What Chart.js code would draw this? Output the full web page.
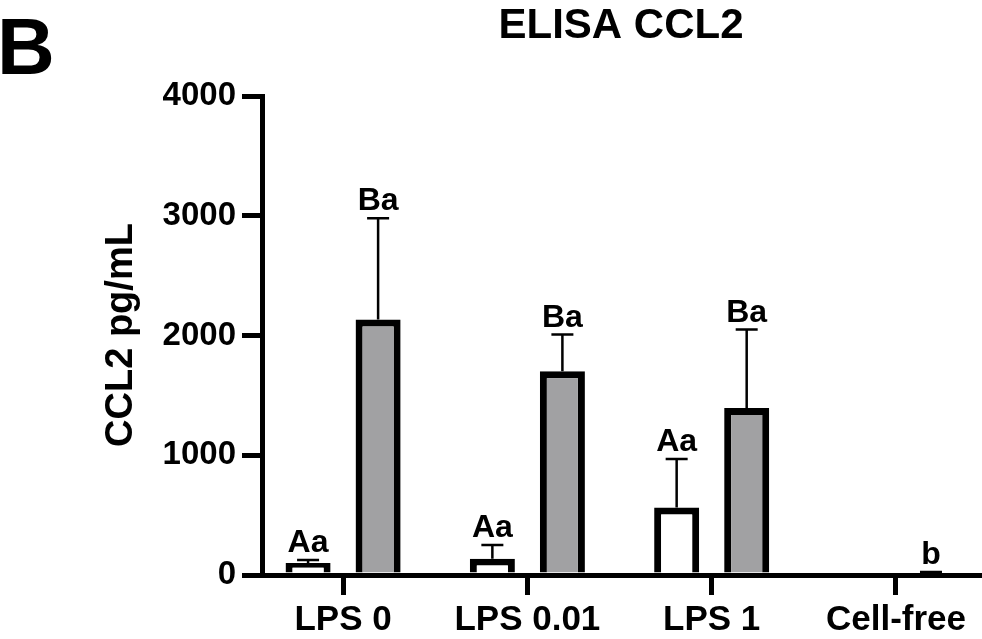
<!DOCTYPE html>
<html>
<head>
<meta charset="utf-8">
<script src="https://cdn.jsdelivr.net/npm/chart.js@4.4.1/dist/chart.umd.min.js"></script>
<style>
  html, body { margin: 0; padding: 0; background: #fff; }
  #wrap { position: relative; width: 982px; height: 639px; }
</style>
</head>
<body>
<div id="wrap"><canvas id="elisa"></canvas></div>
<script>
// ELISA CCL2 — barras medias + error superior (SD)
const categories = ["LPS 0", "LPS 0.01", "LPS 1", "Cell-free"];
const whiteVals  = [100, 136, 563, 0];
const whiteErr   = [125, 251, 968, 0];     // extremo superior de la barra de error
const grayVals   = [2134, 1701, 1395, 0];
const grayErr    = [2979, 2008, 2050, 25];
const whiteTags  = ["Aa", "Aa", "Aa", ""];
const grayTags   = ["Ba", "Ba", "Ba", "b"];
const yTicks     = [0, 1000, 2000, 3000, 4000];

const FONT = "'Liberation Sans', Arial, sans-serif";

const toPts = arr => arr.map((v, i) => ({ x: i, y: v }));

// dibuja error bars, letras, títulos
const extras = {
  id: "extras",
  afterDatasetsDraw(chart){
    const ctx = chart.ctx;
    const ys = chart.scales.y;
    const sets = [[whiteErr, whiteTags], [grayErr, grayTags]];
    ctx.save();
    sets.forEach(([err, tags], d) => {
      const meta = chart.getDatasetMeta(d);
      meta.data.forEach((bar, i) => {
        if (!err[i]) return;
        const top = ys.getPixelForValue(err[i]);
        ctx.strokeStyle = "#000";
        ctx.lineWidth = 2.5;
        ctx.beginPath();
        ctx.moveTo(bar.x, bar.y);
        ctx.lineTo(bar.x, top);
        ctx.moveTo(bar.x - 11, top);
        ctx.lineTo(bar.x + 11, top);
        ctx.stroke();
        if (tags[i]){
          ctx.fillStyle = "#000";
          ctx.font = "bold 32px " + FONT;
          ctx.textAlign = "center";
          ctx.textBaseline = "alphabetic";
          ctx.fillText(tags[i], bar.x, top - 8);
        }
      });
    });
    ctx.restore();
  },
  afterDraw(chart){
    const ctx = chart.ctx;
    const a = chart.chartArea;
    ctx.save();
    ctx.fillStyle = "#000";
    ctx.textBaseline = "alphabetic";
    ctx.font = "bold 80px " + FONT;
    ctx.textAlign = "left";
    ctx.fillText("B", -3, 74);
    ctx.font = "bold 42px " + FONT;
    ctx.textAlign = "center";
    ctx.fillText("ELISA CCL2", (a.left + a.right) / 2, 38);
    ctx.translate(132, 335);
    ctx.rotate(-Math.PI / 2);
    ctx.font = "bold 38px " + FONT;
    ctx.fillText("CCL2 pg/mL", 0, 0);
    ctx.restore();
  }
};

new Chart(document.getElementById("elisa").getContext("2d"), {
  type: "bar",
  data: {
    datasets: [
      {
        label: "white",
        data: toPts(whiteVals),
        backgroundColor: "#ffffff",
        borderColor: "#000000",
        borderWidth: 7,
        barPercentage: 0.643,
        categoryPercentage: 0.76
      },
      {
        label: "gray",
        data: toPts(grayVals),
        backgroundColor: "#a1a1a3",
        borderColor: "#000000",
        borderWidth: 7,
        barPercentage: 0.643,
        categoryPercentage: 0.76
      }
    ]
  },
  options: {
    responsive: true,
    maintainAspectRatio: false,
    animation: false,
    layout: { padding: { top: 96, right: 2, left: 0, bottom: 0 } },
    plugins: {
      legend: { display: false },
      tooltip: { enabled: false }
    },
    scales: {
      x: {
        type: "linear",
        offset: false,
        min: -0.44,
        max: 3.456,
        afterBuildTicks: s => { s.ticks = categories.map((c, i) => ({ value: i })); },
        afterFit: s => { s.height = 64; },
        ticks: {
          color: "#000",
          padding: 4,
          maxRotation: 0,
          autoSkip: false,
          font: { family: FONT, size: 35, weight: "bold" },
          callback: v => categories[v] ?? ""
        },
        grid: { offset: false, drawOnChartArea: false, tickLength: 20, lineWidth: 5, color: "#000" },
        border: { display: true, width: 5, color: "#000" }
      },
      y: {
        min: 0,
        max: 4000,
        afterBuildTicks: s => { s.ticks = yTicks.map(v => ({ value: v })); },
        afterFit: s => { s.width = 262; },
        ticks: {
          color: "#000",
          padding: 6,
          font: { family: FONT, size: 33, weight: "bold" },
          callback: v => String(v)
        },
        grid: { drawOnChartArea: false, tickLength: 20, lineWidth: 5, color: "#000" },
        border: { display: true, width: 5, color: "#000" }
      }
    }
  },
  plugins: [extras]
});
</script>
</body>
</html>
